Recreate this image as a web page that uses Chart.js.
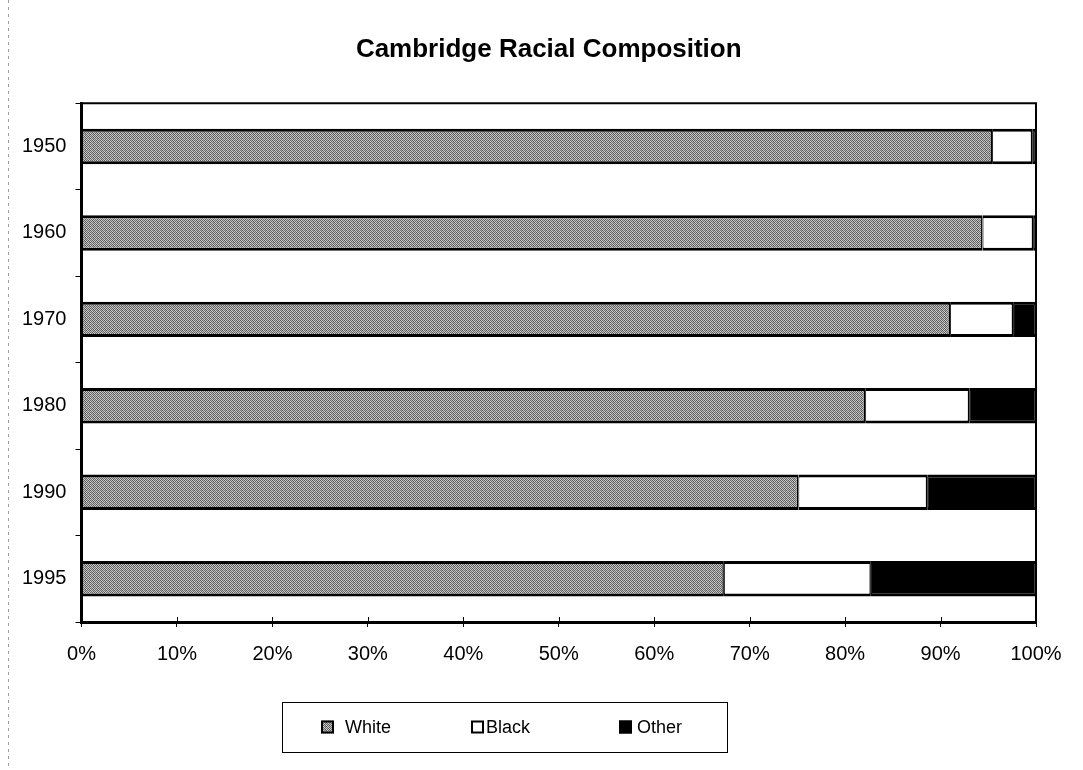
<!DOCTYPE html>
<html>
<head>
<meta charset="utf-8">
<title>Cambridge Racial Composition</title>
<script src="https://cdn.jsdelivr.net/npm/chart.js@4/dist/chart.umd.min.js"></script>
<style>
  html, body { margin: 0; padding: 0; background: #ffffff; }
  #wrap { width: 1083px; height: 770px; position: relative; }
  canvas { display: block; }
</style>
</head>
<body>
<div id="wrap"><canvas id="chart" width="1083" height="770"></canvas></div>
<script>
// ---- data ----
const years = ['1950', '1960', '1970', '1980', '1990', '1995'];
const seriesNames = ['White', 'Black', 'Other'];
const whiteShare = [95.4, 94.4, 91.0, 82.1, 75.1, 67.3];
const blackShare = [4.2, 5.3, 6.6, 10.9, 13.5, 15.4];
const otherShare = [0.4, 0.3, 2.4, 7.0, 11.4, 17.3];
const percentTicks = [0, 10, 20, 30, 40, 50, 60, 70, 80, 90, 100];

// ---- styles ----
const FONT = '"Liberation Sans", Arial, Helvetica, sans-serif';

// stippled grey fill used for the "White" series
function stipple() {
  const shades = [
    [0x58, 0xcc, 0x68, 0xbc],
    [0xc4, 0x50, 0xd4, 0x60],
    [0x70, 0xb4, 0x54, 0xc8],
    [0xd0, 0x5c, 0xc0, 0x6c]
  ];
  const c = document.createElement('canvas');
  c.width = 4; c.height = 4;
  const g = c.getContext('2d');
  for (let y = 0; y < 4; y++) {
    for (let x = 0; x < 4; x++) {
      const v = shades[y][x];
      g.fillStyle = `rgb(${v},${v},${v})`;
      g.fillRect(x, y, 1, 1);
    }
  }
  return g.createPattern(c, 'repeat');
}
const greyFill = stipple();
const fills = [greyFill, '#ffffff', '#000000'];
const barBorder = { top: 3, bottom: 3, left: 1, right: 1.5 };

// boxed legend under the plot
const boxedLegend = {
  id: 'boxedLegend',
  afterDraw(chart, args, opts) {
    const ctx = chart.ctx;
    ctx.save();
    ctx.strokeStyle = '#000';
    ctx.lineWidth = 1;
    ctx.strokeRect(opts.box.x + 0.5, opts.box.y + 0.5, opts.box.w, opts.box.h);
    ctx.font = `${opts.fontSize}px ${FONT}`;
    ctx.textBaseline = 'middle';
    ctx.textAlign = 'left';
    const cy = opts.box.y + opts.box.h / 2;
    chart.data.datasets.forEach((ds, i) => {
      const mx = opts.markerX[i];
      const s = opts.marker;
      ctx.fillStyle = ds.backgroundColor;
      ctx.fillRect(mx, cy - s / 2, s, s);
      ctx.strokeStyle = '#000';
      ctx.lineWidth = 2;
      ctx.strokeRect(mx + 1, cy - s / 2 + 1, s - 2, s - 2);
      ctx.fillStyle = '#000';
      ctx.fillText(ds.label, opts.textX[i], cy + 1);
    });
    ctx.restore();
  }
};

// plot frame (top/right edges), inner tick marks, page margin rule,
// and a small leftward nudge of the title block
const plotFrame = {
  id: 'plotFrame',
  afterLayout(chart, args, opts) {
    const t = chart.titleBlock;
    if (t) { t.left += opts.titleShift; t.right += opts.titleShift; }
  },
  beforeDraw(chart) {
    const ctx = chart.ctx;
    ctx.save();
    ctx.strokeStyle = '#a0a0a0';
    ctx.lineWidth = 1;
    ctx.setLineDash([3, 4]);
    ctx.beginPath();
    ctx.moveTo(8.5, 0);
    ctx.lineTo(8.5, chart.height);
    ctx.stroke();
    ctx.restore();
  },
  afterDatasetsDraw(chart) {
    const { ctx, chartArea: a } = chart;
    ctx.save();
    ctx.strokeStyle = '#000';
    ctx.lineWidth = 2;
    ctx.beginPath();
    ctx.moveTo(a.left, a.top);
    ctx.lineTo(a.right, a.top);
    ctx.lineTo(a.right, a.bottom);
    ctx.stroke();
    const xs = chart.scales.x;
    ctx.lineWidth = 1;
    xs.ticks.forEach((t, i) => {
      const px = Math.round(xs.getPixelForTick(i)) + 0.5;
      ctx.beginPath();
      ctx.moveTo(px, a.bottom);
      ctx.lineTo(px, a.bottom - 5);
      ctx.stroke();
    });
    ctx.restore();
  }
};

const seriesValues = [whiteShare, blackShare, otherShare];

new Chart(document.getElementById('chart'), {
  type: 'bar',
  data: {
    labels: years,
    datasets: seriesNames.map((name, i) => ({
      label: name,
      data: seriesValues[i],
      backgroundColor: fills[i],
      borderColor: '#000',
      borderWidth: barBorder,
      borderSkipped: false,
      categoryPercentage: 1.0,
      barPercentage: 0.41
    }))
  },
  options: {
    indexAxis: 'y',
    responsive: false,
    animation: false,
    devicePixelRatio: 1,
    layout: { padding: { left: 13, right: 47, top: 0, bottom: 89 } },
    plugins: {
      legend: { display: false },
      tooltip: { enabled: false },
      title: {
        display: true,
        fullSize: false,
        text: 'Cambridge Racial Composition',
        color: '#000',
        font: { family: FONT, size: 26, weight: 'bold' },
        padding: { top: 34, bottom: 38 }
      },
      plotFrame: { titleShift: -10 },
      boxedLegend: {
        box: { x: 282, y: 702, w: 445, h: 50 },
        marker: 13,
        markerX: [321, 471, 619],
        textX: [345, 486, 637],
        fontSize: 18
      }
    },
    scales: {
      x: {
        stacked: true,
        min: 0,
        max: 100,
        afterBuildTicks(scale) {
          scale.ticks = percentTicks.map(v => ({ value: v }));
        },
        ticks: {
          color: '#000',
          padding: 15,
          maxRotation: 0,
          font: { family: FONT, size: 20 },
          callback: v => v + '%'
        },
        grid: { drawOnChartArea: false, tickLength: 5, color: '#000', lineWidth: 1 },
        border: { color: '#000', width: 3 }
      },
      y: {
        stacked: true,
        ticks: {
          color: '#000',
          padding: 9,
          font: { family: FONT, size: 20 }
        },
        grid: { offset: true, drawOnChartArea: false, tickLength: 6, color: '#000', lineWidth: 1 },
        border: { color: '#000', width: 3 }
      }
    }
  },
  plugins: [plotFrame, boxedLegend]
});
</script>
</body>
</html>
